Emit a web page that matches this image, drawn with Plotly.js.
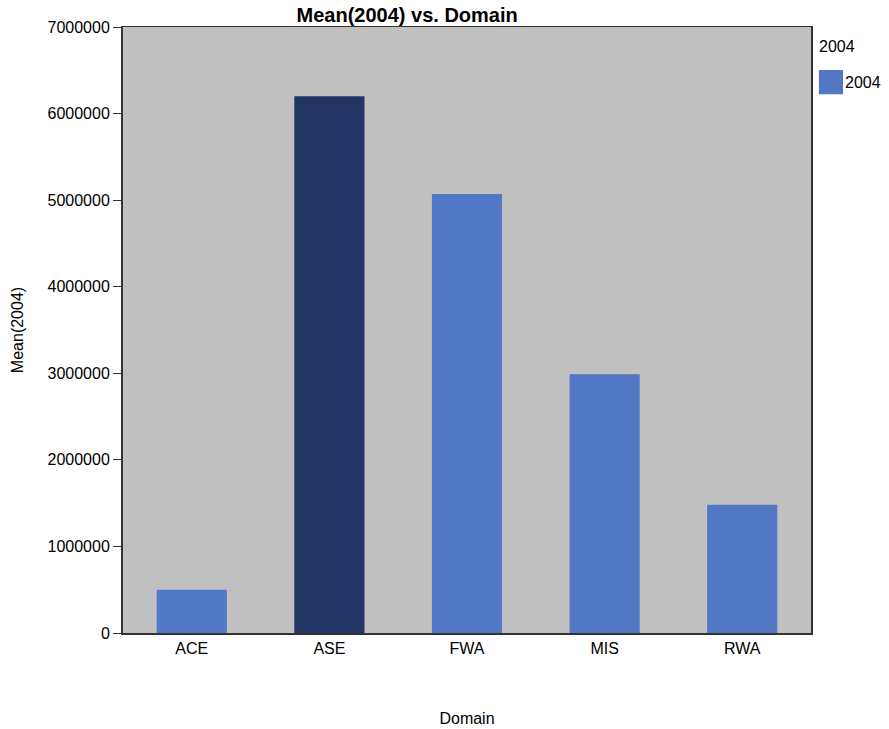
<!DOCTYPE html>
<html>
<head>
<meta charset="utf-8">
<script src="https://cdn.plot.ly/plotly-3.0.1.min.js"></script>
<style>html,body{margin:0;padding:0;background:#fff;}#chart{width:889px;height:729px;}</style>
</head>
<body>
<div id="chart"></div>
<script>
const categories = ["ACE", "ASE", "FWA", "MIS", "RWA"];
const values = [500000, 6200000, 5070000, 2990000, 1480000];
const barColors = ["#5277C4", "#233565", "#5277C4", "#5277C4", "#5277C4"];
const yTicks = [0, 1000000, 2000000, 3000000, 4000000, 5000000, 6000000, 7000000];
const seriesName = "2004";

const font = "Liberation Sans, Arial, sans-serif";

const trace = {
  type: "bar",
  x: categories,
  y: values,
  name: seriesName,
  marker: { color: barColors },
  width: 0.51,
  showlegend: false
};

const layout = {
  width: 889, height: 729,
  margin: { l: 123, r: 78, t: 27, b: 96 },
  paper_bgcolor: "#ffffff",
  plot_bgcolor: "#C0C0C0",
  font: { family: font, size: 16, color: "#000" },
  title: {
    text: "<b>Mean(2004) vs. Domain</b>",
    font: { family: font, size: 20, color: "#000" },
    x: 0.413, xanchor: "center", xref: "paper",
    y: 0.979, yanchor: "middle", yref: "container"
  },
  xaxis: {
    type: "category",
    showline: true, linecolor: "#333", linewidth: 1.5, mirror: true,
    ticks: "", showgrid: false, zeroline: false,
    tickfont: { family: font, size: 16 },
    title: { text: "Domain", font: { family: font, size: 16 }, standoff: 57 }
  },
  yaxis: {
    range: [0, 7000000],
    tickvals: yTicks,
    ticktext: yTicks.map(v => String(v)),
    showline: true, linecolor: "#333", linewidth: 2, mirror: true,
    ticks: "outside", ticklen: 8, tickcolor: "#333", tickwidth: 1,
    showgrid: false, zeroline: false,
    tickfont: { family: font, size: 16 },
    title: { text: "Mean(2004)", font: { family: font, size: 16 }, standoff: 20 }
  },
  shapes: [
    { type: "rect", xref: "paper", yref: "paper",
      x0: 1.0115, x1: 1.0465, y0: 0.889, y1: 0.929,
      fillcolor: barColors[0], line: { width: 0 } }
  ],
  annotations: [
    { text: seriesName, xref: "paper", yref: "paper", x: 1.009, y: 0.967,
      xanchor: "left", yanchor: "middle", showarrow: false,
      font: { family: font, size: 16, color: "#000" } },
    { text: seriesName, xref: "paper", yref: "paper", x: 1.047, y: 0.909,
      xanchor: "left", yanchor: "middle", showarrow: false,
      font: { family: font, size: 16, color: "#000" } }
  ],
  showlegend: false
};

Plotly.newPlot("chart", [trace], layout, { displayModeBar: false, staticPlot: true });
</script>
</body>
</html>
